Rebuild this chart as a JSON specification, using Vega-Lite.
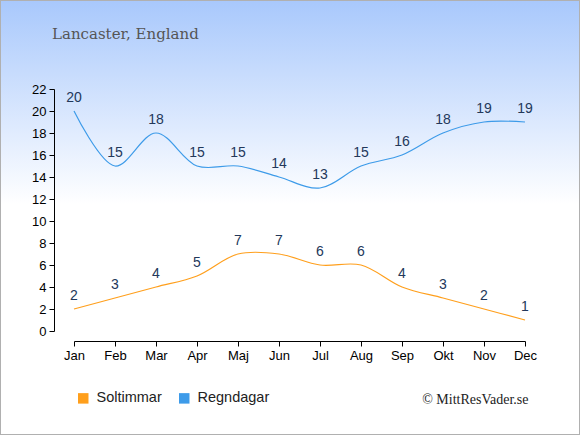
{
  "$schema": "https://vega.github.io/schema/vega-lite/v6.json",
  "width": 580,
  "height": 435,
  "autosize": {"type": "none"},
  "padding": 0,
  "title": {
    "text": "Lancaster, England",
    "anchor": "start",
    "frame": "group",
    "orient": "top",
    "offset": 0,
    "baseline": "alphabetic",
    "dx": 52,
    "dy": 54,
    "font": "DejaVu Serif",
    "fontSize": 15,
    "fontWeight": "normal",
    "color": "#555555"
  },
  "data": {
    "values": [
      {"month": "Jan", "series": "Soltimmar", "value": 2},
      {"month": "Feb", "series": "Soltimmar", "value": 3},
      {"month": "Mar", "series": "Soltimmar", "value": 4},
      {"month": "Apr", "series": "Soltimmar", "value": 5},
      {"month": "Maj", "series": "Soltimmar", "value": 7},
      {"month": "Jun", "series": "Soltimmar", "value": 7},
      {"month": "Jul", "series": "Soltimmar", "value": 6},
      {"month": "Aug", "series": "Soltimmar", "value": 6},
      {"month": "Sep", "series": "Soltimmar", "value": 4},
      {"month": "Okt", "series": "Soltimmar", "value": 3},
      {"month": "Nov", "series": "Soltimmar", "value": 2},
      {"month": "Dec", "series": "Soltimmar", "value": 1},
      {"month": "Jan", "series": "Regndagar", "value": 20},
      {"month": "Feb", "series": "Regndagar", "value": 15},
      {"month": "Mar", "series": "Regndagar", "value": 18},
      {"month": "Apr", "series": "Regndagar", "value": 15},
      {"month": "Maj", "series": "Regndagar", "value": 15},
      {"month": "Jun", "series": "Regndagar", "value": 14},
      {"month": "Jul", "series": "Regndagar", "value": 13},
      {"month": "Aug", "series": "Regndagar", "value": 15},
      {"month": "Sep", "series": "Regndagar", "value": 16},
      {"month": "Okt", "series": "Regndagar", "value": 18},
      {"month": "Nov", "series": "Regndagar", "value": 19},
      {"month": "Dec", "series": "Regndagar", "value": 19}
    ]
  },
  "encoding": {
    "x": {
      "field": "month",
      "type": "ordinal",
      "sort": ["Jan", "Feb", "Mar", "Apr", "Maj", "Jun", "Jul", "Aug", "Sep", "Okt", "Nov", "Dec"],
      "scale": {"type": "point", "padding": 0, "range": [74, 525]},
      "axis": {
        "orient": "bottom",
        "offset": -94,
        "labelAngle": 0,
        "labelFontSize": 13,
        "labelColor": "#000000",
        "labelPadding": 3,
        "domainColor": "#000000",
        "tickColor": "#000000",
        "tickSize": 5,
        "title": "© MittResVader.se",
        "titleX": 528,
        "titleY": 62,
        "titleAlign": "right",
        "titleBaseline": "alphabetic",
        "titleFont": "Liberation Serif",
        "titleFontSize": 14,
        "titleFontWeight": "normal",
        "titleColor": "#222222"
      }
    },
    "y": {
      "field": "value",
      "type": "quantitative",
      "scale": {"domain": [0, 22], "range": [331, 89], "nice": false},
      "axis": {
        "orient": "left",
        "offset": -54,
        "values": [0, 2, 4, 6, 8, 10, 12, 14, 16, 18, 20, 22],
        "grid": false,
        "labelFontSize": 13,
        "labelColor": "#000000",
        "labelPadding": 3,
        "domainColor": "#000000",
        "tickColor": "#000000",
        "tickSize": 5,
        "title": null
      }
    },
    "color": {
      "field": "series",
      "type": "nominal",
      "scale": {"domain": ["Soltimmar", "Regndagar"], "range": ["#ff9f1c", "#3d9be9"]},
      "legend": {
        "orient": "none",
        "legendX": 76,
        "legendY": 391,
        "direction": "horizontal",
        "title": null,
        "symbolType": "square",
        "symbolSize": 110,
        "symbolOpacity": 1,
        "labelFontSize": 14.5,
        "labelColor": "#222222",
        "labelOffset": 6,
        "columnPadding": 15,
        "encode": {
          "symbols": {
            "update": {
              "fill": {"scale": "color", "field": "value"},
              "fillOpacity": {"value": 1},
              "strokeWidth": {"value": 0}
            }
          }
        }
      }
    }
  },
  "layer": [
    {
      "mark": {"type": "line", "interpolate": "catmull-rom", "strokeWidth": 1.2}
    },
    {
      "mark": {"type": "text", "dy": -13, "fontSize": 14, "color": "#23385a"},
      "encoding": {
        "text": {"field": "value", "type": "quantitative"},
        "color": {"value": "#23385a"}
      }
    }
  ],
  "config": {
    "font": "Liberation Sans",
    "view": {
      "fill": {
        "gradient": "linear",
        "x1": 0, "y1": 0, "x2": 0, "y2": 1,
        "stops": [
          {"offset": 0, "color": "#a8c8fc"},
          {"offset": 0.47, "color": "#ffffff"},
          {"offset": 1, "color": "#ffffff"}
        ]
      },
      "stroke": "#b0b0b0",
      "strokeWidth": 2
    }
  }
}
